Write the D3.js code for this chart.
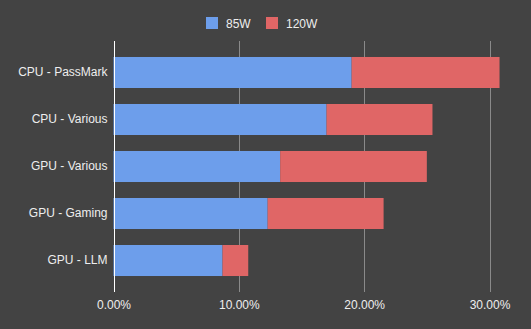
<!DOCTYPE html>
<html>
<head>
<meta charset="utf-8">
<script src="https://cdn.jsdelivr.net/npm/d3@7"></script>
<style>
  html, body { margin: 0; padding: 0; background: #434343; }
  svg { display: block; }
</style>
</head>
<body>
<svg id="chart" width="531" height="329"></svg>
<script>
const categories = ["CPU - PassMark", "CPU - Various", "GPU - Various", "GPU - Gaming", "GPU - LLM"];
const seriesNames = ["85W", "120W"];
const values85W = [19.0, 17.0, 13.3, 12.3, 8.7];
const values120W = [11.8, 8.45, 11.7, 9.25, 2.05];
const tickValues = [0, 10, 20, 30];
const colors = ["#6d9eeb", "#e06666"];

const W = 531, H = 329;
const svg = d3.select("#chart");
svg.append("rect").attr("width", W).attr("height", H).attr("fill", "#434343");

const font = "Arial, 'Liberation Sans', sans-serif";
const plotTop = 41, plotBottom = 292;

const x = d3.scaleLinear().domain([0, 30]).range([113.5, 489.5]);
const y = d3.scaleBand().domain(categories).range([plotTop, plotBottom]).paddingInner(0.34).paddingOuter(0.34);

const rows = categories.map((c, i) => ({ cat: c, "85W": values85W[i], "120W": values120W[i] }));
const stacked = d3.stack().keys(seriesNames)(rows);

// gridlines
svg.append("g").selectAll("line").data(tickValues.filter(d => d !== 0)).join("line")
  .attr("x1", d => Math.round(x(d)) + 0.5).attr("x2", d => Math.round(x(d)) + 0.5)
  .attr("y1", plotTop).attr("y2", plotBottom)
  .attr("stroke", "#8a8a8a").attr("stroke-width", 1);

// bars
svg.append("g").selectAll("g").data(stacked).join("g")
  .attr("fill", (d, i) => colors[i])
  .selectAll("rect").data(d => d).join("rect")
  .attr("x", d => x(d[0]))
  .attr("width", d => x(d[1]) - x(d[0]))
  .attr("y", d => y(d.data.cat))
  .attr("height", y.bandwidth());

// zero line
svg.append("line")
  .attr("x1", Math.round(x(0)) + 0.5).attr("x2", Math.round(x(0)) + 0.5)
  .attr("y1", plotTop).attr("y2", plotBottom)
  .attr("stroke", "#ffffff").attr("stroke-width", 1);

// y axis labels
const yAxis = d3.axisLeft(y).tickSize(0).tickPadding(6);
const yg = svg.append("g").attr("transform", `translate(${x(0)},0)`).call(yAxis);
yg.select(".domain").remove();
yg.selectAll("text").attr("fill", "#eeeeee").style("font-family", font).style("font-size", "12px");

// x axis labels
const xAxis = d3.axisBottom(x).tickValues(tickValues).tickSize(0).tickPadding(0)
  .tickFormat(d => d3.format(".2f")(d) + "%");
const xg = svg.append("g").attr("transform", `translate(0,${plotBottom + 8})`).call(xAxis);
xg.select(".domain").remove();
xg.selectAll("text").attr("fill", "#eeeeee").style("font-family", font).style("font-size", "12px")
  .attr("dy", "0.71em");

// legend
const legendItems = [
  { name: seriesNames[0], color: colors[0], x: 206, tx: 226 },
  { name: seriesNames[1], color: colors[1], x: 266, tx: 286 }
];
const lg = svg.append("g");
lg.selectAll("rect").data(legendItems).join("rect")
  .attr("x", d => d.x).attr("y", 17).attr("width", 12).attr("height", 12)
  .attr("fill", d => d.color);
lg.selectAll("text").data(legendItems).join("text")
  .attr("x", d => d.tx).attr("y", 27.5)
  .attr("fill", "#eeeeee").style("font-family", font).style("font-size", "12px")
  .text(d => d.name);
</script>
</body>
</html>
